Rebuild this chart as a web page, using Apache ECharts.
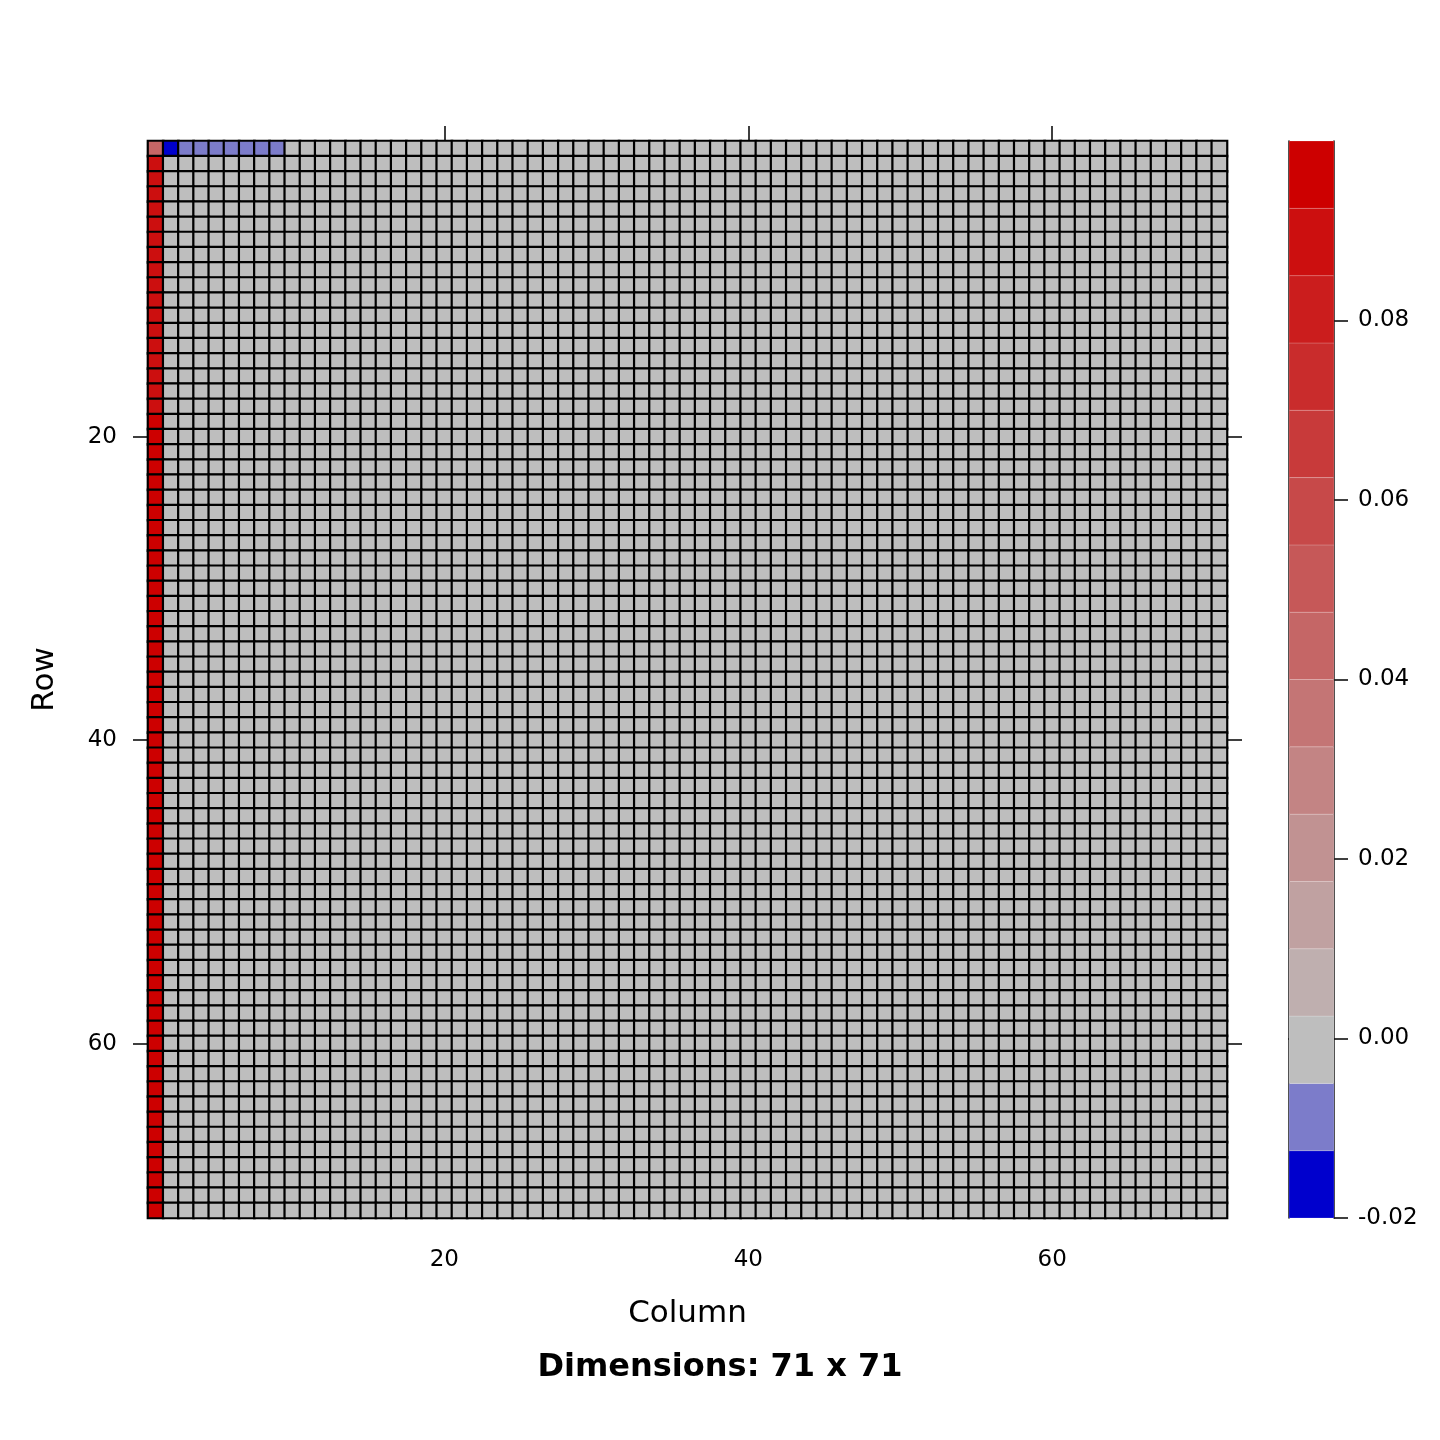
<!DOCTYPE html>
<html>
<head>
<meta charset="utf-8">
<script src="https://cdn.jsdelivr.net/npm/echarts@6/dist/echarts.min.js"></script>
<style>
  html, body { margin: 0; padding: 0; background: #fff; }
  #container { width: 1440px; height: 1440px; }
</style>
</head>
<body>
<div id="container"></div>
<script>
var myChart;
var FONT = 'DejaVu Sans';

// row / column ids of the 71 x 71 matrix
var rowIds = [1, 2, 3, 4, 5, 6, 7, 8, 9, 10, 11, 12, 13, 14, 15, 16, 17, 18, 19, 20,
    21, 22, 23, 24, 25, 26, 27, 28, 29, 30, 31, 32, 33, 34, 35, 36, 37, 38, 39, 40,
    41, 42, 43, 44, 45, 46, 47, 48, 49, 50, 51, 52, 53, 54, 55, 56, 57, 58, 59, 60,
    61, 62, 63, 64, 65, 66, 67, 68, 69, 70, 71];
var colIds = rowIds.slice();

// non-zero entries: first column (rows 1..71) and first row (cols 1..71)
var firstColumn = [0.043,
    0.089, 0.089, 0.089, 0.089, 0.089, 0.089, 0.089, 0.089, 0.089, 0.089,
    0.089, 0.089, 0.089, 0.089, 0.089, 0.089, 0.089,
    0.097, 0.097, 0.097, 0.097, 0.097, 0.097, 0.097, 0.097, 0.097, 0.097,
    0.097, 0.097, 0.097, 0.097, 0.097, 0.097, 0.097, 0.097, 0.097, 0.097,
    0.097, 0.097, 0.097, 0.097, 0.097, 0.097, 0.097, 0.097, 0.097, 0.097,
    0.097, 0.097, 0.097, 0.097, 0.097, 0.097, 0.097, 0.097, 0.097, 0.097,
    0.097, 0.097, 0.097, 0.097, 0.097, 0.097, 0.097, 0.097, 0.097, 0.097,
    0.097, 0.097, 0.097];
var firstRow = [0.043, -0.019, -0.009, -0.009, -0.009, -0.009, -0.009, -0.009, -0.009,
    0, 0, 0, 0, 0, 0, 0, 0, 0, 0, 0, 0, 0, 0, 0, 0, 0, 0, 0, 0, 0,
    0, 0, 0, 0, 0, 0, 0, 0, 0, 0, 0, 0, 0, 0, 0, 0, 0, 0, 0, 0,
    0, 0, 0, 0, 0, 0, 0, 0, 0, 0, 0, 0, 0, 0, 0, 0, 0, 0, 0, 0, 0];

// colour key
var levelBreaks = [-0.02, -0.0125, -0.005, 0.0025, 0.01, 0.0175, 0.025, 0.0325, 0.04,
    0.0475, 0.055, 0.0625, 0.07, 0.0775, 0.085, 0.0925, 0.1];
var levelColors = ['#0000CD', '#7C7CCA', '#BEBEBE', '#BFAFAF', '#C0A1A1', '#C19292',
    '#C38484', '#C47575', '#C56666', '#C65858', '#C74949', '#C83A3A', '#C92C2C',
    '#CB1D1D', '#CC0F0F', '#CD0000'];
var keyTicks = [-0.02, 0, 0.02, 0.04, 0.06, 0.08];

function buildCells() {
    var cells = [];
    for (var r = 0; r < rowIds.length; r++) {
        for (var c = 0; c < colIds.length; c++) {
            var v = 0;
            if (r === 0) v = firstRow[c];
            else if (c === 0) v = firstColumn[r];
            cells.push([c, r, v]);
        }
    }
    return cells;
}

function buildKey() {
    var bands = [];
    for (var i = 0; i < levelColors.length; i++) {
        bands.push([0, levelBreaks[i], levelBreaks[i + 1], i]);
    }
    return bands;
}

function everyTwenty(idx) {
    return (idx + 1) % 20 === 0;
}

function initChart() {
    myChart = echarts.init(document.getElementById('container'), null, { renderer: 'canvas' });

    var lineStyle = { color: '#000', width: 1.5 };
    var pieces = levelColors.map(function (c, i) {
        return { gte: levelBreaks[i], lt: levelBreaks[i + 1], color: c };
    });
    pieces[pieces.length - 1].lte = levelBreaks[levelBreaks.length - 1];
    delete pieces[pieces.length - 1].lt;

    var option = {
        backgroundColor: '#fff',
        animation: false,
        textStyle: { fontFamily: FONT },
        title: {
            text: 'Dimensions: 71 x 71',
            left: 'center',
            top: 1347,
            textStyle: { fontFamily: FONT, fontSize: 32, fontWeight: 'bold', color: '#000' }
        },
        grid: [
            { left: 148, top: 141, width: 1079, height: 1077 },
            { left: 1289, top: 141, width: 45, height: 1077 }
        ],
        xAxis: [
            {
                type: 'category', gridIndex: 0, position: 'bottom', data: colIds,
                name: 'Column', nameLocation: 'middle', nameGap: 80,
                nameTextStyle: { fontFamily: FONT, fontSize: 31, color: '#000' },
                axisLine: { lineStyle: lineStyle },
                axisTick: { show: false },
                axisLabel: { interval: everyTwenty, margin: 31, fontSize: 23, color: '#000', fontFamily: FONT },
                splitLine: { show: false }
            },
            {
                type: 'category', gridIndex: 0, position: 'top', data: colIds,
                axisLine: { lineStyle: lineStyle },
                axisTick: { show: true, interval: everyTwenty, alignWithLabel: true, length: 15, lineStyle: lineStyle },
                axisLabel: { show: false, interval: everyTwenty },
                splitLine: { show: false }
            },
            {
                type: 'category', gridIndex: 1, position: 'bottom', data: [0],
                axisLine: { lineStyle: lineStyle },
                axisTick: { show: false }, axisLabel: { show: false }
            },
            {
                type: 'category', gridIndex: 1, position: 'top', data: [0],
                axisLine: { lineStyle: lineStyle },
                axisTick: { show: false }, axisLabel: { show: false }
            }
        ],
        yAxis: [
            {
                type: 'category', gridIndex: 0, position: 'left', data: rowIds, inverse: true,
                name: 'Row', nameLocation: 'middle', nameGap: 88, nameRotate: 90,
                nameTextStyle: { fontFamily: FONT, fontSize: 31, color: '#000' },
                axisLine: { lineStyle: lineStyle },
                axisTick: { show: true, interval: everyTwenty, alignWithLabel: true, length: 15, lineStyle: lineStyle },
                axisLabel: { interval: everyTwenty, margin: 31, fontSize: 23, color: '#000', fontFamily: FONT },
                splitLine: { show: false }
            },
            {
                type: 'category', gridIndex: 0, position: 'right', data: rowIds, inverse: true,
                axisLine: { lineStyle: lineStyle },
                axisTick: { show: true, interval: everyTwenty, alignWithLabel: true, length: 15, lineStyle: lineStyle },
                axisLabel: { show: false, interval: everyTwenty },
                splitLine: { show: false }
            },
            {
                type: 'value', gridIndex: 1, position: 'right',
                min: levelBreaks[0], max: levelBreaks[levelBreaks.length - 1],
                axisLine: { show: true, lineStyle: lineStyle },
                axisTick: { show: true, length: 14, customValues: keyTicks, lineStyle: lineStyle },
                axisLabel: {
                    customValues: keyTicks, margin: 24, fontSize: 23, color: '#000', fontFamily: FONT,
                    formatter: function (v) { return v.toFixed(2); }
                },
                splitLine: { show: false }
            },
            {
                type: 'value', gridIndex: 1, position: 'left',
                min: levelBreaks[0], max: levelBreaks[levelBreaks.length - 1],
                axisLine: { show: true, lineStyle: lineStyle },
                axisTick: { show: false }, axisLabel: { show: false },
                splitLine: { show: false }
            }
        ],
        visualMap: {
            type: 'piecewise',
            show: false,
            seriesIndex: 0,
            dimension: 2,
            pieces: pieces
        },
        series: [
            {
                type: 'heatmap',
                xAxisIndex: 0,
                yAxisIndex: 0,
                data: buildCells(),
                progressive: 0,
                itemStyle: { borderColor: '#000', borderWidth: 2.2 },
                emphasis: { disabled: true }
            },
            {
                type: 'custom',
                xAxisIndex: 2,
                yAxisIndex: 2,
                data: buildKey(),
                encode: { x: 0, y: [1, 2] },
                renderItem: function (params, api) {
                    var cs = params.coordSys;
                    var top = api.coord([0, api.value(2)])[1];
                    var bottom = api.coord([0, api.value(1)])[1];
                    return {
                        type: 'rect',
                        shape: { x: cs.x, y: top, width: cs.width, height: bottom - top },
                        style: {
                            fill: levelColors[api.value(3)],
                            stroke: 'rgba(255,255,255,0.18)',
                            lineWidth: 1
                        }
                    };
                }
            }
        ]
    };

    myChart.setOption(option);
}

initChart();
</script>
</body>
</html>
